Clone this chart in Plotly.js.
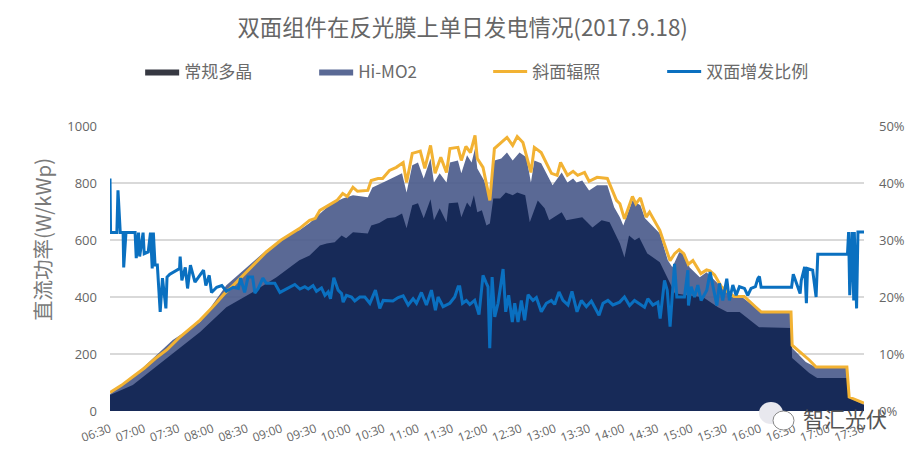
<!DOCTYPE html>
<html><head><meta charset="utf-8">
<script src="https://cdn.plot.ly/plotly-3.0.1.min.js"></script>
<style>html,body{margin:0;padding:0;background:#fff}</style></head>
<body><div id="chart" style="width:918px;height:459px"></div>
<script>
// minutes since 06:30
const tickMinutes=[0,30,60,90,120,150,180,210,240,270,300,330,360,390,420,450,480,510,540,570,600,630,660];
const tickLabels=["06:30","07:00","07:30","08:00","08:30","09:00","09:30","10:00","10:30","11:00","11:30","12:00","12:30","13:00","13:30","14:00","14:30","15:00","15:30","16:00","16:30","17:00","17:30"];

const irrT=[0,10,20,30,40,50,60,70,79,90,100,108,120,130,137,150,160,166,175,180,184,191,199,204,208,213,217,226,229,235,239,245,251,257,260,265,272,276,281,285,290,295,298,305,308,312,316,320,322,327,333,337,342,348,353,357,362,369,372,378,387,392,395,401,406,410,416,420,427,436,444,447,451,458,461,465,470,473,482,487,491,495,499,503,507,511,518,523,526,530,536,547,556,566,571,597,598,613,619,646,648,661];
const irrV=[65,90,120,150,185,215,255,290,319,365,410,441,490,530,558,600,625,640,669,676,704,721,739,763,753,785,771,774,809,816,816,844,855,872,802,904,912,851,932,834,890,837,921,925,879,928,907,967,886,855,739,921,938,960,932,963,942,837,925,907,834,827,872,827,841,827,837,806,820,816,739,727,674,753,727,748,680,698,634,575,527,552,566,552,515,528,482,495,492,477,436,402,402,365,347,347,231,179,154,154,49,28];

const biT=[0,20,55,79,102,114,137,160,166,175,184,193,204,213,226,230,243,256,260,265,270,275,281,284,289,295,298,305,308,313,317,320,322,328,333,337,343,348,353,359,365,369,372,378,388,396,401,406,409,414,420,427,436,442,447,450,458,465,469,482,489,493,499,504,508,517,523,533,545,552,571,597,598,610,620,646,648,661];
const biV=[60,119,249,312,441,483,564,627,634,660,693,725,746,757,750,784,809,834,767,862,872,816,886,802,834,802,872,879,834,897,872,921,851,809,746,879,886,907,879,907,890,802,879,869,792,837,802,816,802,809,774,792,792,715,680,651,739,722,676,623,529,504,557,553,504,469,487,448,399,406,347,347,221,172,151,151,49,25];

const polyT=[0,20,50,79,102,125,146,166,175,184,190,197,203,207,213,226,229,236,243,250,256,260,265,270,275,281,284,289,295,297,305,308,313,316,319,322,326,330,333,336,342,347,353,357,364,368,375,381,385,396,400,414,423,431,438,447,451,455,460,464,471,482,491,495,506,520,533,541,552,569,597,598,613,620,646,648,661];
const polyV=[56,91,186,277,364,417,469,529,546,581,588,592,616,606,627,623,651,660,676,680,693,641,722,729,676,743,669,711,662,729,732,680,732,715,757,697,704,651,658,746,746,767,757,767,757,662,739,711,669,697,669,680,644,669,662,588,539,616,599,609,553,522,448,413,406,399,364,347,347,294,291,186,133,116,116,46,21];

const gainT=[0,0.5,6,7,9,11.5,12,14,22,23,25,26,29,30,33.5,35.5,37,38,39.5,41.5,44,46,49,50,52.5,61,61.5,63,66,68,70.5,74.5,82,84,87,89,93.5,98,102,108,112.5,114.5,118,121,125,127,130,134,137,144.5,149,155,157.7,162,166.5,170.8,173.8,178,181,185.4,188.4,191.3,193.3,196.2,200,203,204.4,207.3,211.7,214.6,219,223.4,227.8,232.7,236.5,239.5,248,252.6,257,261.4,265.7,268.7,273,277.4,281.8,285.3,287.6,292,297.9,302.2,305.2,306.6,309,312.4,315.4,319.7,323.5,327,330,331.4,332.9,335,337.3,340.2,344.6,346.9,349.5,352.7,354.8,357.7,360.6,363.5,366.5,370.8,373.8,378.1,382.5,386.9,389.8,393.6,397.1,401.5,405,409.4,413.2,417.6,422,428.7,432.2,436.5,440.9,446.8,451,455.5,459.8,464.2,468.6,471.5,475.9,480.3,482.3,486.1,488.5,491,494.9,496.9,503.6,506.6,507.1,509.5,512.4,515.3,518.2,523.2,526.1,529.9,532,534.3,537.2,540.7,543,546,548.9,551.8,556.2,559.1,562,565.8,567.9,569.3,570.8,597.5,599,605,606,609,610.5,611.5,616,619,620.5,646.5,647.5,648.5,650.5,652,652.5,654.5,655.7,661];
const gainV=[40.8,31.3,31.3,38.7,31.3,31.3,25.2,31.3,31.3,26.8,31.3,27.1,31.3,27.6,27.9,31.3,25,31.3,25.6,25.6,17.4,23.3,18,23.5,24,25,27.1,22.9,25.2,21.5,25.6,22.6,24.7,22,23.8,20.8,21.7,22,21,21.7,21.5,23.3,20.8,23.5,23.5,20.7,21.5,23.3,22.4,22.4,20.8,21.5,21.8,22.2,21.4,21.8,21.4,22,21,21.6,20.3,20.9,19.7,23.4,21.2,20.6,19.1,20.3,20,19.3,20,20,18.9,21.2,18,19.4,19.3,19.9,20.2,18.6,19.7,18.9,20.8,18.6,21.2,17.7,20,18.3,18.9,20,21.8,21.8,18.9,19.4,18.7,19.4,16.9,23.8,22.4,21.8,11,23.5,16.5,18.9,24.9,17.4,20.3,15.6,18.9,15.6,19.4,15.9,20.4,19.4,19.9,17.4,18.9,19.4,18.7,20.9,19.4,18.6,21,17.4,19.4,18.3,19.3,16.8,18.9,19.4,18.6,19.1,20,18.5,19.4,18.8,18.2,19.7,18.6,19.1,16.2,22.9,21.2,14.8,25.8,20,20,24.7,18.5,21.8,20,22.1,19.4,21.2,24.4,20.6,18.5,22.4,19.4,23.2,19.4,22.1,20.3,21.8,21.5,20.3,21.5,21.8,23.2,23.6,21.7,21.7,24,20.6,22.9,25.3,18.9,25,24.7,20,27.5,27.5,31.4,20.3,31.4,19.4,31.4,18,31.4,31.4];

const pxX=p=>(p-110)/754, pxY=p=>(411-p)/285;
const font="'Open Sans','Noto Sans CJK SC',sans-serif";
const cjk="'Noto Sans CJK SC',sans-serif";
const traces=[
 {name:"Hi-MO2",x:biT,y:biV,mode:"lines",fill:"tozeroy",fillcolor:"rgba(72,89,138,0.9)",line:{width:0,color:"#5a6a96"},legendrank:2},
 {name:"常规多晶",x:polyT,y:polyV,mode:"lines",fill:"tozeroy",fillcolor:"#172a58",line:{width:0,color:"#172a58"},showlegend:false},
 {name:"常规多晶",x:[0,1],y:[-20,-20],mode:"lines",fill:"tozeroy",fillcolor:"#363842",line:{width:0,color:"#363842"},legendrank:1},
 {name:"斜面辐照",x:irrT,y:irrV,mode:"lines",line:{color:"#f2b233",width:3},legendrank:3},
 {name:"双面增发比例",x:gainT,y:gainV,yaxis:"y2",mode:"lines",line:{color:"#0a70c0",width:3},legendrank:4}
];
const layout={
 width:918,height:459,paper_bgcolor:"#fff",plot_bgcolor:"#fff",showlegend:true,
 margin:{l:110,r:54,t:126,b:48},
 font:{family:font,color:"#666"},
 title:{text:"双面组件在反光膜上单日发电情况(2017.9.18)",x:0.504,xanchor:"center",y:0.938,yanchor:"middle",font:{size:22.4,color:"#666",family:cjk}},
 legend:{orientation:"h",x:0.04,xanchor:"left",y:1.19,yanchor:"middle",itemwidth:34,entrywidth:125,entrywidthmode:"pixels",font:{size:17,color:"#6a6a6a",family:cjk},bgcolor:"rgba(0,0,0,0)",tracegroupgap:0},
 xaxis:{range:[0,661],tickmode:"array",tickvals:tickMinutes,ticktext:tickLabels,tickangle:-20,ticklabelstandoff:8,tickfont:{size:12,color:"#666"},showgrid:false,zeroline:false,showline:false,ticks:""},
 yaxis:{range:[0,1000],dtick:200,ticklabelstandoff:12,tickfont:{size:13,color:"#666"},gridcolor:"#d9d9d9",gridwidth:1.5,zeroline:false,showline:false,ticklen:0},
 yaxis2:{overlaying:"y",side:"right",range:[0,50],dtick:10,ticksuffix:"%",ticklabelstandoff:14,tickfont:{size:13,color:"#666"},showgrid:false,zeroline:false,showline:false},
 shapes:[
  {type:"circle",xref:"paper",yref:"paper",x0:pxX(759),x1:pxX(783),y0:pxY(424),y1:pxY(402),fillcolor:"#e8e8ee",line:{width:0},layer:"above"},
  {type:"circle",xref:"paper",yref:"paper",x0:pxX(773),x1:pxX(794),y0:pxY(430),y1:pxY(411),fillcolor:"#ffffff",line:{width:1,color:"#888"},layer:"above"}
 ],
 annotations:[
  {text:"直流功率(W/kWp)",textangle:-90,xref:"paper",yref:"paper",x:pxX(42),y:pxY(240),showarrow:false,xanchor:"center",yanchor:"middle",font:{size:20.5,color:"#7a7a7a",family:cjk}},
  {text:"智汇光伏",xref:"paper",yref:"paper",x:pxX(845),y:pxY(418),showarrow:false,xanchor:"center",yanchor:"middle",font:{size:21,color:"#555",family:cjk}}
 ]
};
Plotly.newPlot("chart",traces,layout,{displayModeBar:false,staticPlot:true});
</script></body></html>
